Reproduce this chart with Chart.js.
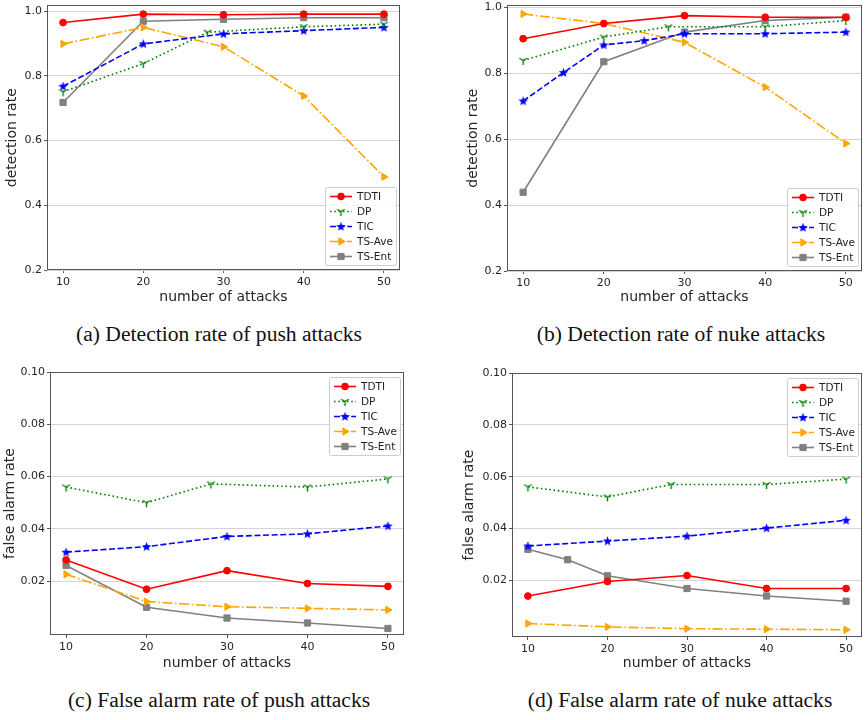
<!DOCTYPE html>
<html>
<head>
<meta charset="utf-8">
<script src="https://cdn.jsdelivr.net/npm/chart.js@4.4.0/dist/chart.umd.min.js"></script>
<style>
  body { margin: 0; background: #fff; width: 868px; height: 720px; position: relative; overflow: hidden; }
  .panel { position: absolute; width: 434px; height: 310px; }
  .cap { position: absolute; width: 434px; text-align: center; font-family: "Liberation Serif", "Times New Roman", serif; font-size: 21.6px; color: #111; }
</style>
</head>
<body>
<div class="panel" style="left:0;top:0"><canvas id="chartA"></canvas></div>
<div class="panel" style="left:434px;top:0"><canvas id="chartB"></canvas></div>
<div class="panel" style="left:0;top:360px"><canvas id="chartC"></canvas></div>
<div class="panel" style="left:434px;top:360px"><canvas id="chartD"></canvas></div>
<div class="cap" style="left:2px;top:322px">(a) Detection rate of push attacks</div>
<div class="cap" style="left:464px;top:322px">(b) Detection rate of nuke attacks</div>
<div class="cap" style="left:2px;top:688px">(c) False alarm rate of push attacks</div>
<div class="cap" style="left:463px;top:688px">(d) False alarm rate of nuke attacks</div>
<script>
const seriesNames = ['TDTI', 'DP', 'TIC', 'TS-Ave', 'TS-Ent'];
const xTicks = [10, 20, 30, 40, 50];
const detTicks = [0.2, 0.4, 0.6, 0.8, 1.0];
const farTicks = [0.02, 0.04, 0.06, 0.08, 0.10];

// x positions used by the series
const xStd = [10, 20, 30, 40, 50];
const xDP = [10, 20, 28, 40, 50];
const xTicNuke = [10, 15, 20, 25, 30, 40, 50];
const xEntNukeFar = [10, 15, 20, 30, 40, 50];

// (a) detection rate, push attacks
const pushDetTDTI = [0.965, 0.991, 0.989, 0.991, 0.991];
const pushDetDP = [0.751, 0.838, 0.935, 0.952, 0.960];
const pushDetTIC = [0.768, 0.899, 0.930, 0.940, 0.950];
const pushDetAve = [0.899, 0.950, 0.890, 0.738, 0.488];
const pushDetEnt = [0.718, 0.969, 0.975, 0.980, 0.980];

// (b) detection rate, nuke attacks
const nukeDetTDTI = [0.905, 0.951, 0.975, 0.970, 0.970];
const nukeDetDP = [0.839, 0.910, 0.941, 0.941, 0.960];
const nukeDetTIC = [0.716, 0.802, 0.886, 0.899, 0.920, 0.920, 0.925];
const nukeDetAve = [0.980, 0.951, 0.894, 0.758, 0.587];
const nukeDetEnt = [0.439, 0.835, 0.925, 0.960, 0.970];

// (c) false alarm rate, push attacks
const pushFarTDTI = [0.0281, 0.0169, 0.0240, 0.0191, 0.0180];
const pushFarDP = [0.0560, 0.0500, 0.0572, 0.0560, 0.0591];
const pushFarTIC = [0.0311, 0.0332, 0.0371, 0.0381, 0.0411];
const pushFarAve = [0.0226, 0.0122, 0.0102, 0.0096, 0.0090];
const pushFarEnt = [0.0260, 0.0100, 0.0059, 0.0040, 0.0019];

// (d) false alarm rate, nuke attacks
const nukeFarTDTI = [0.0140, 0.0196, 0.0219, 0.0169, 0.0169];
const nukeFarDP = [0.0561, 0.0522, 0.0570, 0.0570, 0.0591];
const nukeFarTIC = [0.0333, 0.0352, 0.0371, 0.0402, 0.0432];
const nukeFarAve = [0.0034, 0.0021, 0.0014, 0.0012, 0.0010];
const nukeFarEnt = [0.0320, 0.0280, 0.0218, 0.0169, 0.0140, 0.0120];

const pts = (xs, ys) => xs.map((x, i) => ({ x: x, y: ys[i] }));

function makeTriDown(color) {
    const c = document.createElement('canvas');
    c.width = 11; c.height = 11;
    const g = c.getContext('2d');
    g.strokeStyle = color;
    g.lineWidth = 1.4;
    const cx = 5.5, cy = 5.5, r = 4.5;
    g.beginPath();
    g.moveTo(cx, cy); g.lineTo(cx, cy + r);
    g.moveTo(cx, cy); g.lineTo(cx - r * 0.866, cy - r * 0.5);
    g.moveTo(cx, cy); g.lineTo(cx + r * 0.866, cy - r * 0.5);
    g.stroke();
    return c;
}

function makeStar(color) {
    const c = document.createElement('canvas');
    c.width = 11; c.height = 11;
    const g = c.getContext('2d');
    g.fillStyle = color;
    g.beginPath();
    for (let i = 0; i < 10; i++) {
        const r = i % 2 === 0 ? 5 : 2.1;
        const a = -Math.PI / 2 + i * Math.PI / 5;
        const px = 5.5 + r * Math.cos(a), py = 5.8 + r * Math.sin(a);
        if (i === 0) g.moveTo(px, py); else g.lineTo(px, py);
    }
    g.closePath();
    g.fill();
    return c;
}

const triDown = makeTriDown('#008000');
const star = makeStar('#0000ff');

const styles = [
    { color: '#ff0000', dash: [], pointStyle: 'circle', radius: 3.4, rotation: 0 },
    { color: '#008000', dash: [1.6, 2.7], pointStyle: triDown, radius: 3, rotation: 0 },
    { color: '#0000ff', dash: [6, 2.6], pointStyle: star, radius: 3, rotation: 0 },
    { color: '#ffa500', dash: [10, 2.6, 1.6, 2.6], pointStyle: 'triangle', radius: 4.2, rotation: 90 },
    { color: '#808080', dash: [], pointStyle: 'rect', radius: 4.4, rotation: 0 }
];

const framePlugin = {
    id: 'frame',
    afterDatasetsDraw(chart) {
        const a = chart.chartArea, ctx = chart.ctx;
        ctx.save();
        ctx.strokeStyle = '#555';
        ctx.lineWidth = 1;
        ctx.strokeRect(Math.round(a.left) + 0.5, Math.round(a.top) + 0.5,
            Math.round(a.right - a.left) - 1, Math.round(a.bottom - a.top) - 1);
        ctx.restore();
    }
};

const insideLegend = {
    id: 'insideLegend',
    afterDraw(chart, args, opts) {
        const ctx = chart.ctx, a = chart.chartArea;
        const w = 71, h = 78, rowH = 15;
        const x = a.right - w - 4;
        const y = opts.corner === 'top' ? a.top + 5 : a.bottom - h - 5;
        ctx.save();
        ctx.fillStyle = 'rgba(255,255,255,0.85)';
        ctx.strokeStyle = '#cccccc';
        ctx.lineWidth = 1;
        ctx.beginPath();
        ctx.roundRect(x + 0.5, y + 0.5, w, h, 2);
        ctx.fill();
        ctx.stroke();
        chart.data.datasets.forEach((ds, i) => {
            const cy = y + 9.5 + i * rowH;
            const st = styles[i];
            ctx.strokeStyle = st.color;
            ctx.lineWidth = ds.borderWidth;
            ctx.setLineDash(st.dash);
            ctx.beginPath();
            ctx.moveTo(x + 5, cy);
            ctx.lineTo(x + 27, cy);
            ctx.stroke();
            ctx.setLineDash([]);
            ctx.fillStyle = st.color;
            ctx.lineWidth = 1;
            Chart.helpers.drawPoint(ctx, {
                pointStyle: st.pointStyle, rotation: st.rotation,
                radius: st.radius, borderWidth: 1
            }, x + 16, cy);
            ctx.fillStyle = '#222';
            ctx.font = '10.5px "DejaVu Sans"';
            ctx.textBaseline = 'middle';
            ctx.fillText(ds.label, x + 32, cy + 0.5);
        });
        ctx.restore();
    }
};

function buildChart(id, cfg) {
    const datasets = cfg.series.map((s, i) => ({
        label: seriesNames[i],
        data: pts(s[0], s[1]),
        borderColor: styles[i].color,
        backgroundColor: styles[i].color,
        borderWidth: 1.6,
        borderDash: styles[i].dash,
        pointStyle: styles[i].pointStyle,
        pointRadius: styles[i].radius,
        pointRotation: styles[i].rotation,
        pointBorderWidth: 1,
        pointBorderColor: styles[i].color,
        pointBackgroundColor: styles[i].color,
        tension: 0,
        fill: false
    }));
    return new Chart(document.getElementById(id), {
        type: 'line',
        data: { datasets: datasets },
        options: {
            responsive: true,
            maintainAspectRatio: false,
            animation: false,
            layout: { padding: cfg.padding },
            plugins: {
                legend: { display: false },
                tooltip: { enabled: false },
                insideLegend: { corner: cfg.corner }
            },
            scales: {
                x: {
                    type: 'linear',
                    min: 8, max: 52,
                    afterBuildTicks: s => { s.ticks = xTicks.map(v => ({ value: v })); },
                    afterFit: s => { s.height = cfg.xHeight; s.paddingLeft = 0; s.paddingRight = 0; },
                    grid: { drawOnChartArea: false, drawTicks: true, tickLength: 3, tickColor: '#555' },
                    border: { display: false },
                    ticks: { color: '#262626', font: { family: 'DejaVu Sans', size: 11 }, padding: 3, maxRotation: 0 },
                    title: { display: true, text: 'number of attacks', color: '#262626',
                        font: { family: 'DejaVu Sans', size: 14 }, padding: { top: 0, bottom: cfg.xTitlePad } }
                },
                y: {
                    type: 'linear',
                    min: cfg.yMin, max: cfg.yMax,
                    afterBuildTicks: s => { s.ticks = cfg.yTicks.map(v => ({ value: v })); },
                    afterFit: s => { s.width = cfg.yWidth; s.paddingTop = 0; s.paddingBottom = 0; },
                    grid: { color: '#d4d4d4', lineWidth: 1, borderDash: [1, 2], drawTicks: true,
                        tickLength: 3, tickColor: '#555', tickBorderDash: [] },
                    border: { display: false },
                    ticks: { color: '#262626', font: { family: 'DejaVu Sans', size: 11 }, padding: 2,
                        callback: v => v.toFixed(cfg.dec) },
                    title: { display: true, text: cfg.yTitle, color: '#262626',
                        font: { family: 'DejaVu Sans', size: 14 }, padding: { top: cfg.yTitlePad, bottom: 0 } }
                }
            }
        },
        plugins: [framePlugin, insideLegend]
    });
}

buildChart('chartA', {
    series: [[xStd, pushDetTDTI], [xDP, pushDetDP], [xStd, pushDetTIC], [xStd, pushDetAve], [xStd, pushDetEnt]],
    padding: { left: 0, top: 5, right: 34, bottom: 0 },
    yWidth: 47, xHeight: 40, yTitlePad: 3.6, xTitlePad: 4.6,
    yMin: 0.2, yMax: 1.018, yTicks: detTicks, dec: 1, yTitle: 'detection rate', corner: 'bottom'
});
buildChart('chartB', {
    series: [[xStd, nukeDetTDTI], [xDP, nukeDetDP], [xTicNuke, nukeDetTIC], [xStd, nukeDetAve], [xStd, nukeDetEnt]],
    padding: { left: 0, top: 4, right: 6, bottom: 0 },
    yWidth: 73, xHeight: 39, yTitlePad: 31, xTitlePad: 4.6,
    yMin: 0.2, yMax: 1.006, yTicks: detTicks, dec: 1, yTitle: 'detection rate', corner: 'bottom'
});
buildChart('chartC', {
    series: [[xStd, pushFarTDTI], [xDP, pushFarDP], [xStd, pushFarTIC], [xStd, pushFarAve], [xStd, pushFarEnt]],
    padding: { left: 0, top: 12, right: 30, bottom: 0 },
    yWidth: 50, xHeight: 35, yTitlePad: 1.6, xTitlePad: -1.5,
    yMin: -0.0006, yMax: 0.10, yTicks: farTicks, dec: 2, yTitle: 'false alarm rate', corner: 'top'
});
buildChart('chartD', {
    series: [[xStd, nukeFarTDTI], [xDP, nukeFarDP], [xStd, nukeFarTIC], [xStd, nukeFarAve], [xEntNukeFar, nukeFarEnt]],
    padding: { left: 0, top: 13, right: 6, bottom: 0 },
    yWidth: 78, xHeight: 33, yTitlePad: 26.6, xTitlePad: -1.5,
    yMin: -0.0018, yMax: 0.10, yTicks: farTicks, dec: 2, yTitle: 'false alarm rate', corner: 'top'
});
</script>
</body>
</html>
